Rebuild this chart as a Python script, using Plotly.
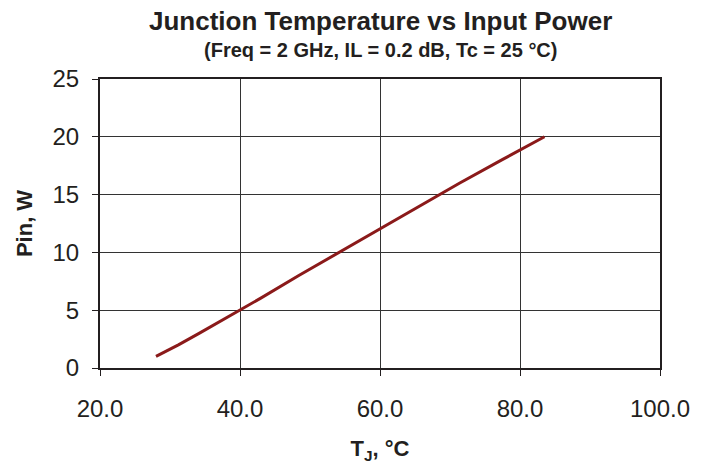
import plotly.graph_objects as go

pin_w = [1, 2, 3, 4, 5, 6, 8, 10, 12, 14, 16, 18, 20]
tj_c = [28.0, 31.2, 34.15, 37.1, 40.0, 42.85, 48.4, 54.1, 59.8, 65.6, 71.4, 77.4, 83.5]

x_ticks = [20, 40, 60, 80, 100]
x_tick_labels = ["20.0", "40.0", "60.0", "80.0", "100.0"]
y_ticks = [0, 5, 10, 15, 20, 25]

title_text = "<b>Junction Temperature vs Input Power</b>"
subtitle_text = "<b>(Freq = 2 GHz, IL = 0.2 dB, Tc = 25 °C)</b>"

fig = go.Figure()
fig.add_trace(go.Scatter(x=tj_c, y=pin_w, mode="lines",
                         line=dict(color="#8B1A1A", width=3), showlegend=False))

fig.add_annotation(text=title_text, xref="paper", yref="paper", x=0.5, y=1,
                   yshift=58, xanchor="center", yanchor="middle", showarrow=False,
                   font=dict(size=26, family="Liberation Sans, Arial", color="#231f20"))
fig.add_annotation(text=subtitle_text, xref="paper", yref="paper", x=0.5, y=1,
                   yshift=29, xanchor="center", yanchor="middle", showarrow=False,
                   font=dict(size=20, family="Liberation Sans, Arial", color="#231f20"))

fig.update_layout(
    width=709, height=464,
    margin=dict(l=100, r=49, t=79, b=96),
    paper_bgcolor="white", plot_bgcolor="white",
    font=dict(family="Liberation Sans, Arial", color="#231f20"),
    xaxis=dict(
        range=[20, 100], tickvals=x_ticks, ticktext=x_tick_labels,
        showgrid=True, gridcolor="#333333", gridwidth=1,
        showline=True, linecolor="#231f20", linewidth=2, mirror=True,
        ticks="outside", ticklen=6, tickcolor="#231f20",
        ticklabelstandoff=12, automargin=False,
        tickfont=dict(size=24, family="Liberation Sans, Arial"),
        title=dict(text="<b>T<sub>J</sub>, °C</b>", font=dict(size=22), standoff=30),
        zeroline=False,
    ),
    yaxis=dict(
        range=[0, 25], tickvals=y_ticks,
        showgrid=True, gridcolor="#333333", gridwidth=1,
        showline=True, linecolor="#231f20", linewidth=2, mirror=True,
        ticks="outside", ticklen=6, tickcolor="#231f20",
        ticklabelstandoff=8, automargin=False,
        tickfont=dict(size=24, family="Liberation Sans, Arial"),
        title=dict(text="<b>Pin, W</b>", font=dict(size=22), standoff=14),
        zeroline=False,
    ),
)

fig.write_html("out.html")
